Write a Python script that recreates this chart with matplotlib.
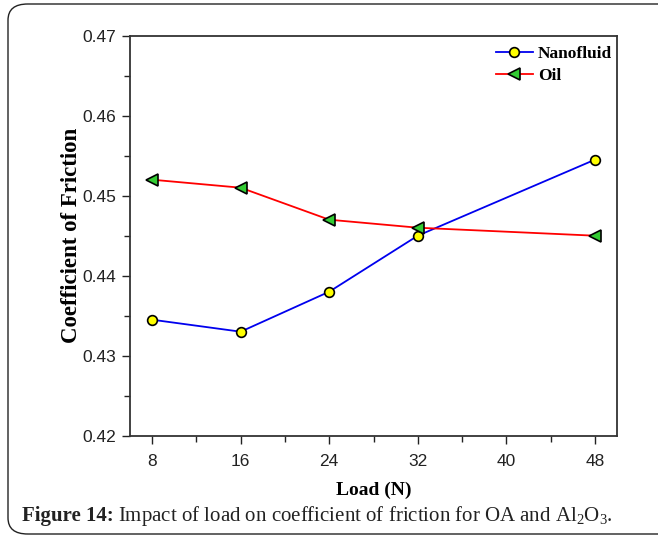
import matplotlib
matplotlib.use("Agg")
import matplotlib.pyplot as plt
from matplotlib.patches import FancyBboxPatch
from matplotlib.ticker import MultipleLocator

load = [8, 16, 24, 32, 48]
nanofluid = [0.4345, 0.433, 0.438, 0.445, 0.4545]
oil = [0.452, 0.451, 0.447, 0.446, 0.445]
xticks = [8, 16, 24, 32, 40, 48]
yticks = [0.42, 0.43, 0.44, 0.45, 0.46, 0.47]

plt.rcParams["mathtext.fontset"] = "custom"
plt.rcParams["mathtext.rm"] = "Liberation Serif"
plt.rcParams["mathtext.bf"] = "Liberation Serif:bold"
plt.rcParams["mathtext.it"] = "Liberation Serif:italic"
plt.rcParams["mathtext.default"] = "rm"

W, H = 658, 538
fig = plt.figure(figsize=(W / 100, H / 100), dpi=100)

# rounded frame around the figure
box = FancyBboxPatch((8 / W, 4 / H), (680 - 8) / W, (534 - 4) / H,
                     boxstyle="round,pad=0,rounding_size=0.03",
                     transform=fig.transFigure, fill=False,
                     edgecolor="#222222", linewidth=1.0, clip_on=False)
fig.patches.append(box)

ax = fig.add_axes([130 / W, 1 - 435.7 / H, (617 - 130) / W, (435.7 - 35.7) / H])

ax.plot(load, nanofluid, color="#0000ee", lw=1.3, marker="o", ms=7,
        mfc="#ffff00", mec="black", mew=1.2, label="Nanofluid", zorder=3)
ax.plot(load, oil, color="#ff0000", lw=1.3, marker="<", ms=8,
        mfc="#33cc33", mec="black", mew=1.2, label="Oil", zorder=3)

ax.set_xlim(6, 50)
ax.set_ylim(0.42, 0.47)
ax.set_xticks(xticks)
ax.set_yticks(yticks)
ax.xaxis.set_minor_locator(MultipleLocator(4))
ax.yaxis.set_minor_locator(MultipleLocator(0.005))
ax.set_yticklabels([f"{v:.2f}" for v in yticks])

ax.tick_params(axis="both", which="both", direction="out", top=False, right=False,
               labelsize=12.5, colors="#222222")
ax.tick_params(axis="both", which="major", length=6, width=1)
ax.tick_params(axis="x", which="major", pad=7)
ax.tick_params(axis="y", which="major", pad=4)
ax.tick_params(axis="both", which="minor", length=4, width=1)
for lbl in ax.get_xticklabels() + ax.get_yticklabels():
    lbl.set_fontfamily("Liberation Sans")

for s in ax.spines.values():
    s.set_linewidth(1.3)
    s.set_color("#333333")

ax.set_xlabel("Load (N)", fontfamily="Liberation Serif", fontweight="bold",
              fontsize=14, labelpad=9)
ax.set_ylabel("Coefficient of Friction", fontfamily="Liberation Serif",
              fontweight="bold", fontsize=16.5, labelpad=0)

leg = ax.legend(loc="upper right", bbox_to_anchor=(1.004, 0.992), frameon=False,
                prop={"family": "Liberation Serif", "weight": "bold", "size": 12.5},
                handlelength=2.1, handletextpad=0.3, borderaxespad=0.0,
                labelspacing=0.35)

# caption: bold lead-in followed by regular text
cap_y = 1 - 516 / H
t1 = fig.text(22 / W, cap_y, "Figure 14:", fontfamily="Liberation Serif",
              fontweight="bold", fontsize=15, va="center", ha="left", color="#222222")
renderer = fig.canvas.get_renderer()
bb = t1.get_window_extent(renderer=renderer)
fig.text(bb.x1 / W + 4 / W, cap_y,
         "Impact of load on coefficient of friction for OA and Al$_2$O$_3$.",
         fontfamily="Liberation Serif", fontsize=15, va="center", ha="left",
         color="#222222")

fig.savefig("out.png", dpi=100)
